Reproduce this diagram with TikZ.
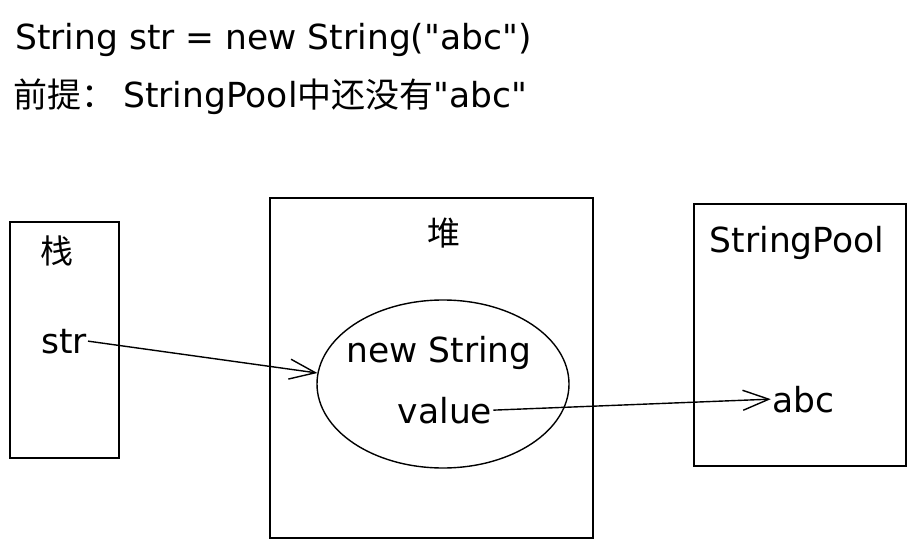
\documentclass[tikz,border=0pt]{standalone}
\usepackage{fontspec}
\setmainfont{DejaVu Sans}[Ligatures=TeXOff]
\newfontfamily\cjk{Noto Sans CJK SC}
\newcommand\zhtext[1]{{\fontsize{34}{40}\selectfont\cjk #1}}
\usetikzlibrary{arrows.meta,shapes.geometric}
\begin{document}
\begin{tikzpicture}[x=1pt,y=-1pt,
  txt/.style={inner sep=1pt, anchor=base, font=\fontsize{34.5}{40}\selectfont},
  zh/.style={inner sep=1pt, anchor=base, font=\fontsize{33}{40}\selectfont\cjk},
  box/.style={draw, line width=1.6pt, inner sep=0pt, anchor=north west},
  oval/.style={draw, ellipse, line width=1.4pt, inner sep=0pt},
  conn/.style={line width=1.4pt, -{Straight Barb[length=26pt,width=20pt,line width=1.4pt]}}]
\useasboundingbox (0,0) rectangle (915,556);
\fill[white] (0,0) rectangle (915,556);

% title lines
\node[txt, anchor=base west] (t1) at (14,50) {String str = new String("abc")};
\node[txt, anchor=base west] (t2) at (12,108) {\zhtext{前提：}\hspace{8pt}StringPool\zhtext{中还没有}"abc"};

% boxes
\node[box, minimum width=109pt, minimum height=236pt] (stack) at (9,221) {};
\node[box, minimum width=323pt, minimum height=340pt] (heap) at (269,197) {};
\node[box, minimum width=212pt, minimum height=262pt] (pool) at (693,203) {};
\node[oval, minimum width=252pt, minimum height=168pt] (obj) at (443,384) {};

% labels
\node[zh] (stacklbl) at (57,263) {栈};
\node[txt] (str) at (64,353) {str};
\node[zh] (heaplbl) at (444,245) {堆};
\node[txt] (newstr) at (439,362) {new String};
\node[txt] (value) at (445,423) {value};
\node[txt] (poollbl) at (797,252) {StringPool};
\node[txt] (abc) at (803,412) {abc};

% connectors
\draw[conn] (str.east) -- (obj.175);
\draw[conn] (value.east) -- (abc.west);
\end{tikzpicture}
\end{document}
